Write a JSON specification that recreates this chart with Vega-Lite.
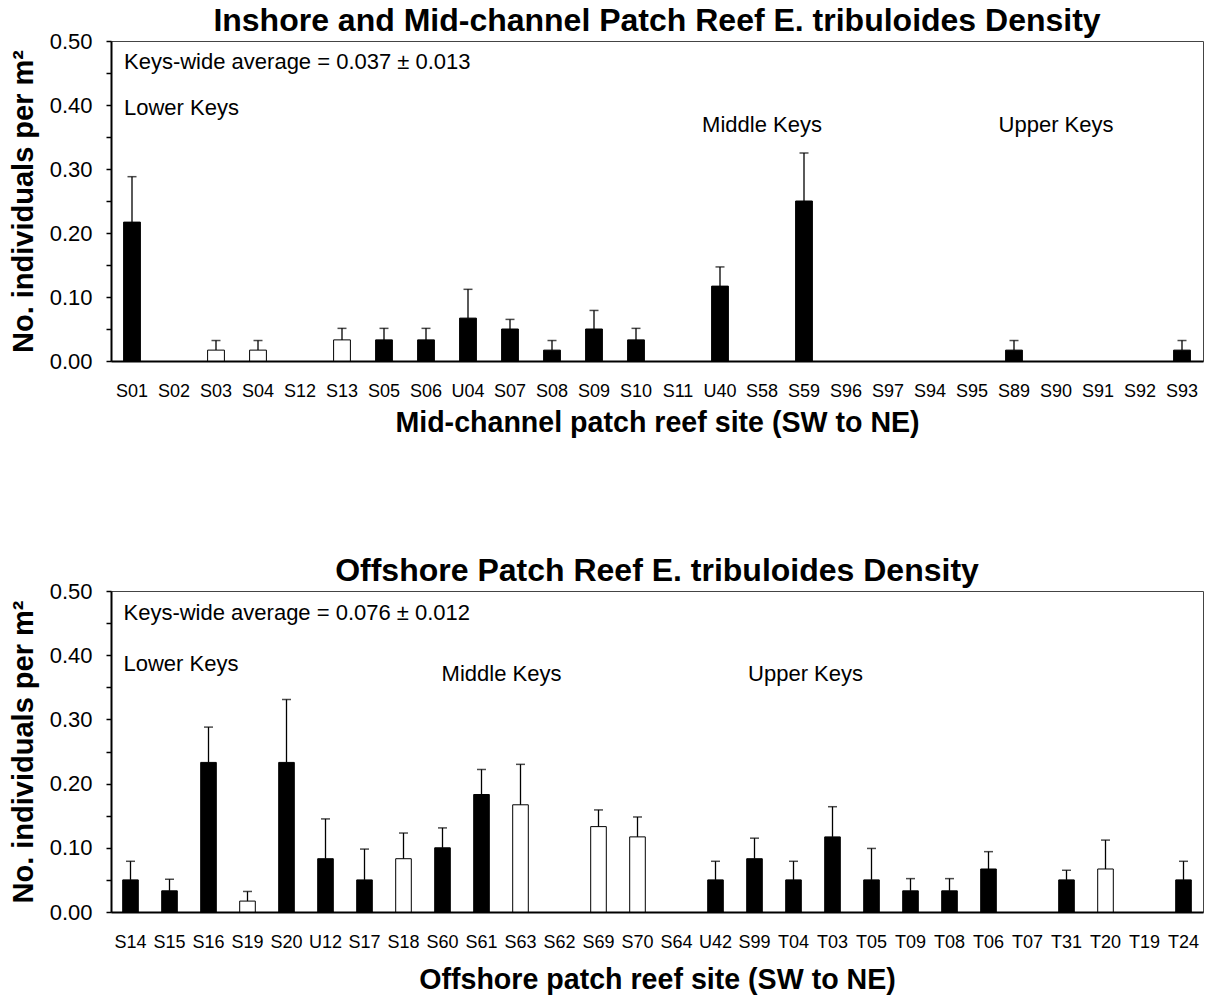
{
  "$schema": "https://vega.github.io/schema/vega-lite/v6.json",
  "background": "white",
  "padding": {"left": 8, "top": 4, "right": 3, "bottom": 2},
  "config": {
    "font": "Liberation Sans",
    "view": {"stroke": "#444444", "strokeWidth": 1},
    "axis": {"domainColor": "black", "domainWidth": 2, "grid": false, "labelColor": "black", "titleColor": "black", "labelFont": "Liberation Sans", "titleFont": "Liberation Sans"},
    "title": {"font": "Liberation Sans", "fontSize": 32, "fontWeight": "bold", "color": "black", "anchor": "middle", "frame": "group", "offset": -8},
    "text": {"font": "Liberation Sans", "fontSize": 22, "color": "black"},
    "concat": {"spacing": 116}
  },
  "datasets": {
    "inshore": [
      {"site": "S01", "value": 0.217, "upper": 0.288, "group": "A"},
      {"site": "S02", "value": 0, "upper": 0, "group": "A"},
      {"site": "S03", "value": 0.017, "upper": 0.032, "group": "B"},
      {"site": "S04", "value": 0.017, "upper": 0.032, "group": "B"},
      {"site": "S12", "value": 0, "upper": 0, "group": "A"},
      {"site": "S13", "value": 0.033, "upper": 0.051, "group": "B"},
      {"site": "S05", "value": 0.033, "upper": 0.051, "group": "A"},
      {"site": "S06", "value": 0.033, "upper": 0.051, "group": "A"},
      {"site": "U04", "value": 0.067, "upper": 0.112, "group": "A"},
      {"site": "S07", "value": 0.05, "upper": 0.065, "group": "A"},
      {"site": "S08", "value": 0.017, "upper": 0.032, "group": "A"},
      {"site": "S09", "value": 0.05, "upper": 0.079, "group": "A"},
      {"site": "S10", "value": 0.033, "upper": 0.051, "group": "A"},
      {"site": "S11", "value": 0, "upper": 0, "group": "A"},
      {"site": "U40", "value": 0.117, "upper": 0.147, "group": "A"},
      {"site": "S58", "value": 0, "upper": 0, "group": "A"},
      {"site": "S59", "value": 0.25, "upper": 0.325, "group": "A"},
      {"site": "S96", "value": 0, "upper": 0, "group": "A"},
      {"site": "S97", "value": 0, "upper": 0, "group": "A"},
      {"site": "S94", "value": 0, "upper": 0, "group": "A"},
      {"site": "S95", "value": 0, "upper": 0, "group": "A"},
      {"site": "S89", "value": 0.017, "upper": 0.032, "group": "A"},
      {"site": "S90", "value": 0, "upper": 0, "group": "A"},
      {"site": "S91", "value": 0, "upper": 0, "group": "A"},
      {"site": "S92", "value": 0, "upper": 0, "group": "A"},
      {"site": "S93", "value": 0.017, "upper": 0.032, "group": "A"}
    ],
    "offshore": [
      {"site": "S14", "value": 0.05, "upper": 0.079, "group": "A"},
      {"site": "S15", "value": 0.033, "upper": 0.051, "group": "A"},
      {"site": "S16", "value": 0.233, "upper": 0.288, "group": "A"},
      {"site": "S19", "value": 0.017, "upper": 0.032, "group": "B"},
      {"site": "S20", "value": 0.233, "upper": 0.331, "group": "A"},
      {"site": "U12", "value": 0.083, "upper": 0.145, "group": "A"},
      {"site": "S17", "value": 0.05, "upper": 0.098, "group": "A"},
      {"site": "S18", "value": 0.083, "upper": 0.123, "group": "B"},
      {"site": "S60", "value": 0.1, "upper": 0.131, "group": "A"},
      {"site": "S61", "value": 0.183, "upper": 0.222, "group": "A"},
      {"site": "S63", "value": 0.167, "upper": 0.23, "group": "B"},
      {"site": "S62", "value": 0, "upper": 0, "group": "A"},
      {"site": "S69", "value": 0.133, "upper": 0.159, "group": "B"},
      {"site": "S70", "value": 0.117, "upper": 0.148, "group": "B"},
      {"site": "S64", "value": 0, "upper": 0, "group": "A"},
      {"site": "U42", "value": 0.05, "upper": 0.079, "group": "A"},
      {"site": "S99", "value": 0.083, "upper": 0.115, "group": "A"},
      {"site": "T04", "value": 0.05, "upper": 0.079, "group": "A"},
      {"site": "T03", "value": 0.117, "upper": 0.164, "group": "A"},
      {"site": "T05", "value": 0.05, "upper": 0.099, "group": "A"},
      {"site": "T09", "value": 0.033, "upper": 0.052, "group": "A"},
      {"site": "T08", "value": 0.033, "upper": 0.052, "group": "A"},
      {"site": "T06", "value": 0.067, "upper": 0.094, "group": "A"},
      {"site": "T07", "value": 0, "upper": 0, "group": "A"},
      {"site": "T31", "value": 0.05, "upper": 0.065, "group": "A"},
      {"site": "T20", "value": 0.067, "upper": 0.112, "group": "B"},
      {"site": "T19", "value": 0, "upper": 0, "group": "A"},
      {"site": "T24", "value": 0.05, "upper": 0.079, "group": "A"}
    ]
  },
  "vconcat": [
    {
      "width": 1092,
      "height": 320,
      "title": {"text": "Inshore and Mid-channel Patch Reef E. tribuloides Density"},
      "encoding": {
        "x": {
          "field": "site", "type": "nominal", "sort": null,
          "scale": {"domain": ["S01","S02","S03","S04","S12","S13","S05","S06","U04","S07","S08","S09","S10","S11","U40","S58","S59","S96","S97","S94","S95","S89","S90","S91","S92","S93"], "paddingInner": 0.6, "paddingOuter": 0.3},
          "axis": {"title": "Mid-channel patch reef site (SW to NE)", "labelAngle": 0, "ticks": false, "tickSize": 0, "labelFontSize": 18, "labelPadding": 21, "titleFontSize": 28.6, "titleFontWeight": "bold", "titlePadding": 8}
        },
        "y": {
          "field": "value", "type": "quantitative",
          "scale": {"domain": [0, 0.5], "nice": false},
          "axis": {"title": "No. individuals per m²", "values": [0, 0.05, 0.1, 0.15, 0.2, 0.25, 0.3, 0.35, 0.4, 0.45, 0.5], "labelExpr": "round(datum.value*100) % 10 === 0 ? format(datum.value, '.2f') : ''", "labelOverlap": false, "labelFlush": false, "labelFontSize": 22, "tickSize": 5, "tickColor": "black", "tickWidth": 1.5, "labelPadding": 14, "titleFontSize": 29, "titleFontWeight": "bold", "titlePadding": 11}
        }
      },
      "layer": [
        {
          "data": {"name": "inshore"},
          "transform": [{"filter": "datum.value > 0"}],
          "mark": {"type": "bar", "stroke": "black", "strokeWidth": 1},
          "encoding": {
            "fill": {"field": "group", "type": "nominal", "scale": {"domain": ["A", "B"], "range": ["black", "white"]}, "legend": null}
          }
        },
        {
          "data": {"name": "inshore"},
          "transform": [{"filter": "datum.upper > 0"}],
          "mark": {"type": "rule", "color": "black", "strokeWidth": 1.3},
          "encoding": {"y2": {"field": "upper"}}
        },
        {
          "data": {"name": "inshore"},
          "transform": [{"filter": "datum.upper > 0"}],
          "mark": {"type": "tick", "color": "black", "thickness": 1.5, "size": 9},
          "encoding": {"y": {"field": "upper", "type": "quantitative"}}
        },
        {
          "data": {"values": [{"site": "S01", "value": 0.467, "label": "Keys-wide average = 0.037 ± 0.013"}, {"site": "S01", "value": 0.396, "label": "Lower Keys"}]},
          "mark": {"type": "text", "align": "left", "baseline": "middle", "dx": -8},
          "encoding": {"text": {"field": "label"}}
        },
        {
          "data": {"values": [{"site": "S58", "value": 0.369, "label": "Middle Keys"}, {"site": "S90", "value": 0.369, "label": "Upper Keys"}]},
          "mark": {"type": "text", "align": "center", "baseline": "middle"},
          "encoding": {"text": {"field": "label"}}
        }
      ]
    },
    {
      "width": 1092,
      "height": 321,
      "title": {"text": "Offshore Patch Reef E. tribuloides Density"},
      "encoding": {
        "x": {
          "field": "site", "type": "nominal", "sort": null,
          "scale": {"domain": ["S14","S15","S16","S19","S20","U12","S17","S18","S60","S61","S63","S62","S69","S70","S64","U42","S99","T04","T03","T05","T09","T08","T06","T07","T31","T20","T19","T24"], "paddingInner": 0.6, "paddingOuter": 0.3},
          "axis": {"title": "Offshore patch reef site (SW to NE)", "labelAngle": 0, "ticks": false, "tickSize": 0, "labelFontSize": 18, "labelPadding": 21, "titleFontSize": 28.6, "titleFontWeight": "bold", "titlePadding": 14}
        },
        "y": {
          "field": "value", "type": "quantitative",
          "scale": {"domain": [0, 0.5], "nice": false},
          "axis": {"title": "No. individuals per m²", "values": [0, 0.05, 0.1, 0.15, 0.2, 0.25, 0.3, 0.35, 0.4, 0.45, 0.5], "labelExpr": "round(datum.value*100) % 10 === 0 ? format(datum.value, '.2f') : ''", "labelOverlap": false, "labelFlush": false, "labelFontSize": 22, "tickSize": 5, "tickColor": "black", "tickWidth": 1.5, "labelPadding": 14, "titleFontSize": 29, "titleFontWeight": "bold", "titlePadding": 11}
        }
      },
      "layer": [
        {
          "data": {"name": "offshore"},
          "transform": [{"filter": "datum.value > 0"}],
          "mark": {"type": "bar", "stroke": "black", "strokeWidth": 1},
          "encoding": {
            "fill": {"field": "group", "type": "nominal", "scale": {"domain": ["A", "B"], "range": ["black", "white"]}, "legend": null}
          }
        },
        {
          "data": {"name": "offshore"},
          "transform": [{"filter": "datum.upper > 0"}],
          "mark": {"type": "rule", "color": "black", "strokeWidth": 1.3},
          "encoding": {"y2": {"field": "upper"}}
        },
        {
          "data": {"name": "offshore"},
          "transform": [{"filter": "datum.upper > 0"}],
          "mark": {"type": "tick", "color": "black", "thickness": 1.5, "size": 9},
          "encoding": {"y": {"field": "upper", "type": "quantitative"}}
        },
        {
          "data": {"values": [{"site": "S14", "value": 0.466, "label": "Keys-wide average = 0.076 ± 0.012"}, {"site": "S14", "value": 0.387, "label": "Lower Keys"}]},
          "mark": {"type": "text", "align": "left", "baseline": "middle", "dx": -7},
          "encoding": {"text": {"field": "label"}}
        },
        {
          "data": {"values": [{"site": "S63", "value": 0.371, "label": "Middle Keys"}]},
          "mark": {"type": "text", "align": "center", "baseline": "middle", "dx": -19},
          "encoding": {"text": {"field": "label"}}
        },
        {
          "data": {"values": [{"site": "T04", "value": 0.371, "label": "Upper Keys"}]},
          "mark": {"type": "text", "align": "center", "baseline": "middle", "dx": 12},
          "encoding": {"text": {"field": "label"}}
        }
      ]
    }
  ]
}
